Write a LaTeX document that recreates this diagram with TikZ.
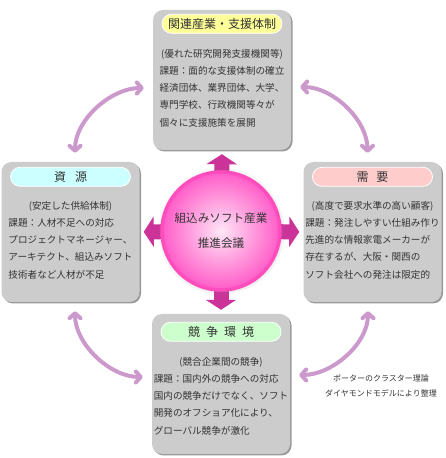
\documentclass[tikz,border=0pt]{standalone}
\usepackage{fontspec}
\usepackage{tikz}
\usetikzlibrary{arrows.meta, positioning, shadows, backgrounds}
\newfontfamily\jpfont{Noto Sans CJK JP}
\definecolor{panelgray}{HTML}{CCCCCC}
\definecolor{panelshade}{HTML}{999999}
\definecolor{pillyellow}{HTML}{FFFF99}
\definecolor{pillcyan}{HTML}{CCFFFF}
\definecolor{pillpink}{HTML}{FFCCCC}
\definecolor{pillgreen}{HTML}{CCFFCC}
\definecolor{hubpink}{HTML}{FF5CC8}
\definecolor{hubcore}{HTML}{FFE6F6}
\definecolor{hubrim}{HTML}{FF4DBE}
\definecolor{hubarrow}{HTML}{CC3399}
\definecolor{linklilac}{HTML}{CC99CC}
\definecolor{inkgray}{HTML}{333333}

\begin{document}
\begin{tikzpicture}[x=1pt, y=1pt, font=\jpfont, text=inkgray,
    panel/.style={fill=panelgray, rounded corners=10pt, minimum width=138pt, minimum height=140pt,
        drop shadow={shadow xshift=1.5pt, shadow yshift=-1.5pt, fill=panelshade, opacity=1}},
    pill/.style={draw=white, line width=0.8pt, rounded corners=9.5pt, minimum width=120pt, minimum height=19pt,
        inner sep=0pt, font=\jpfont\fontsize{12pt}{14pt}\selectfont},
    subline/.style={inner sep=0pt, font=\jpfont\fontsize{9.6pt}{17.3pt}\selectfont},
    bodytext/.style={inner sep=0pt, align=left, font=\jpfont\fontsize{9.6pt}{17.3pt}\selectfont},
    hubpush/.style={hubarrow, line width=15pt, -{Triangle[width=30pt, length=10pt]}, shorten >=4pt},
    link/.style={linklilac, line width=4pt, line cap=round,
        {Straight Barb[length=5pt, width=11pt, round]}-{Straight Barb[length=5pt, width=11pt, round]},
        shorten >=9pt, shorten <=9pt}]
    \useasboundingbox (0,0) rectangle (445,458);

    % four panels
    \node[panel] (rel) at (222,378) {};
    \node[panel] (res) at (70.5,226) {};
    \node[panel] (dem) at (372.5,226) {};
    \node[panel] (comp) at (221,74) {};

    % headings
    \node[pill, fill=pillyellow] (relhead) at ([yshift=-14pt]rel.north) {関連産業・支援体制};
    \node[pill, fill=pillcyan] (reshead) at ([yshift=-15pt]res.north) {資\hspace{9pt}源};
    \node[pill, fill=pillpink] (demhead) at ([yshift=-15pt]dem.north) {需\hspace{8pt}要};
    \node[pill, fill=pillgreen] (comphead) at ([yshift=-18pt]comp.north) {競\hspace{6pt}争\hspace{6pt}環\hspace{6pt}境};

    % panel texts
    \node[subline] (relsub) at ([yshift=-45pt]rel.north) {(優れた研究開発支援機関等)};
    \node[bodytext, below=6pt of relsub] (relbody) {課題：面的な支援体制の確立\\経済団体、業界団体、大学、\\専門学校、行政機関等々が\\個々に支援施策を展開};

    \node[subline] (ressub) at ([yshift=-45pt]res.north) {(安定した供給体制)};
    \node[bodytext, below=6pt of ressub] (resbody) {課題：人材不足への対応\\プロジェクトマネージャー、\\アーキテクト、組込みソフト\\技術者など人材が不足};

    \node[subline] (demsub) at ([yshift=-45pt]dem.north) {(高度で要求水準の高い顧客)};
    \node[bodytext, below=6pt of demsub] (dembody) {課題：発注しやすい仕組み作り\\先進的な情報家電メーカーが\\存在するが、大阪・関西の\\ソフト会社への発注は限定的};

    \node[subline] (compsub) at ([yshift=-49pt]comp.north) {(競合企業間の競争)};
    \node[bodytext, below=6pt of compsub] (compbody) {課題：国内外の競争への対応\\国内の競争だけでなく、ソフト\\開発のオフショア化により、\\グローバル競争が激化};

    % hub
    \node[circle, minimum size=118pt, inner sep=0pt, draw=hubrim, line width=3.5pt,
        inner color=hubcore, outer color=hubpink,
        circular drop shadow={shadow xshift=0pt, shadow yshift=0pt, shadow scale=1.08, opacity=0.45},
        align=center, font=\jpfont\fontsize{11.6pt}{25pt}\selectfont] (hub) at (221,227) {組込みソフト産業\\推進会議};

    \begin{scope}[on background layer]
        \draw[hubpush] (hub.center) -- (rel.south);
        \draw[hubpush] (hub.center) -- (res.east);
        \draw[hubpush] (hub.center) -- (dem.west);
        \draw[hubpush] (hub.center) -- (comp.north);
    \end{scope}

    % links between panels
    \draw[link] ([yshift=-8pt]rel.west) to[out=180, in=90] ([xshift=4.5pt]res.north);
    \draw[link] ([yshift=-7pt]rel.east) to[out=0, in=90] ([xshift=-5pt]dem.north);
    \draw[link] ([xshift=4.5pt]res.south) to[out=-90, in=180] ([yshift=7pt]comp.west);
    \draw[link] ([xshift=-4.5pt]dem.south) to[out=-90, in=0] ([yshift=9pt]comp.east);

    \node[align=center, font=\jpfont\fontsize{8pt}{15pt}\selectfont] (note) at (381,72.5) {ポーターのクラスター理論\\ダイヤモンドモデルにより整理};
\end{tikzpicture}
\end{document}
